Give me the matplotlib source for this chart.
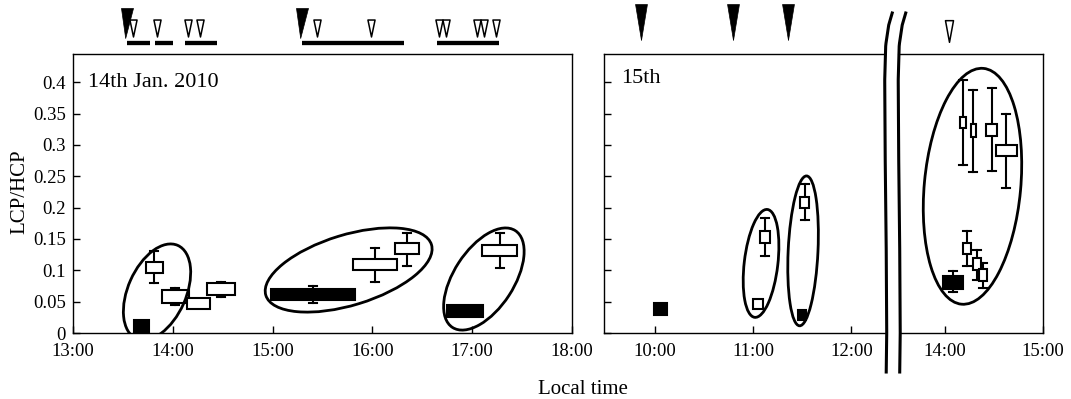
import numpy as np
import matplotlib
matplotlib.use("Agg")
import matplotlib.pyplot as plt
from matplotlib.patches import Rectangle, Ellipse, Polygon
from matplotlib.path import Path
from matplotlib.lines import Line2D
from matplotlib.transforms import ScaledTranslation, blended_transform_factory, IdentityTransform

plt.rcParams['font.family'] = ['Liberation Serif', 'DejaVu Serif']

nan = np.nan

# --- 14th Jan 2010 (left panel), time in hours ---
x14 = [13.687, 13.815, 14.025, 14.258, 14.483, 15.405, 16.027, 16.347, 16.928, 17.275]
w14 = [0.147, 0.176, 0.276, 0.223, 0.273, 0.85, 0.433, 0.233, 0.363, 0.356]
q1_14 = [0.0, 0.096, 0.048, 0.038, 0.061, 0.052, 0.100, 0.126, 0.025, 0.123]
q3_14 = [0.020, 0.114, 0.069, 0.056, 0.079, 0.070, 0.118, 0.144, 0.044, 0.141]
lo_14 = [nan, 0.079, 0.045, nan, 0.058, 0.048, 0.081, 0.107, nan, 0.103]
hi_14 = [nan, 0.131, 0.071, nan, 0.082, 0.075, 0.136, 0.160, nan, 0.159]
filled_14 = [True, False, False, False, False, True, False, False, True, False]

# --- 15th (right panel) ---
x15 = [10.059, 11.049, 11.120, 11.497, 11.524, 14.084, 14.185, 14.290, 14.476, 14.628, 14.226, 14.328, 14.389]
w15 = [0.132, 0.096, 0.102, 0.078, 0.095, 0.198, 0.061, 0.054, 0.118, 0.22, 0.075, 0.075, 0.075]
q1_15 = [0.029, 0.039, 0.143, 0.021, 0.200, 0.070, 0.327, 0.313, 0.314, 0.282, 0.126, 0.100, 0.083]
q3_15 = [0.048, 0.055, 0.162, 0.037, 0.217, 0.091, 0.345, 0.333, 0.333, 0.300, 0.144, 0.119, 0.102]
lo_15 = [nan, nan, 0.123, nan, 0.180, 0.065, 0.268, 0.257, 0.259, 0.231, 0.107, 0.085, 0.071]
hi_15 = [nan, nan, 0.183, nan, 0.238, 0.099, 0.404, 0.387, 0.390, 0.349, 0.162, 0.132, 0.111]
filled_15 = [True, False, False, True, False, True, False, False, False, False, False, False, False]

# ellipses: centre (time, value), semi axes in pixels, angle
ell14_x = [13.842, 15.762, 17.117]
ell14_y = [0.0654, 0.1005, 0.0861]
ell14_a = [51, 86.6, 57.7]
ell14_b = [29, 35.2, 30]
ell14_ang = [66, 17, 57]

ell15_x = [11.079, 11.507, 14.282]
ell15_y = [0.111, 0.131, 0.234]
ell15_a = [54.3, 75, 118.4]
ell15_b = [16.8, 14.9, 48.2]
ell15_ang = [83.3, 87.3, 84.7]

# markers above the panels
big_tri14 = [13.545, 15.295]
open_tri14 = [13.605, 13.84, 14.15, 14.27, 15.44, 15.99, 16.67, 16.74, 17.05, 17.12, 17.24]
bar14_start = [13.54, 13.82, 14.12, 15.29, 16.65]
bar14_end = [13.77, 14.00, 14.44, 16.32, 17.27]
big_tri15 = [9.855, 10.797, 11.357]
open_tri15 = [14.043]

yticks = [0, 0.05, 0.1, 0.15, 0.2, 0.25, 0.3, 0.35, 0.4]
ytick_labels = ['0', '0.05', '0.1', '0.15', '0.2', '0.25', '0.3', '0.35', '0.4']
xticks14 = [13, 14, 15, 16, 17, 18]
xticks15 = [10, 11, 12, 14, 15]

GAP = 1.05  # hours cut out by the axis break
BREAK_AT = 12.43

DPI = 100
fig = plt.figure(figsize=(10.71, 3.99), dpi=DPI)
ax1 = fig.add_axes([73 / 1071, 66 / 399, 499 / 1071, 279 / 399])
ax2 = fig.add_axes([604 / 1071, 66 / 399, 439 / 1071, 279 / 399])


def shift(t):
    return t - GAP if t > 13 else t


def draw_boxes(ax, xs, ws, q1, q3, lo, hi, filled, cap):
    for x, w, a, b, l, h, f in zip(xs, ws, q1, q3, lo, hi, filled):
        if not np.isnan(l):
            ax.plot([x, x], [l, h], color='k', lw=1.5, zorder=2)
            ax.plot([x - cap / 2, x + cap / 2], [l, l], color='k', lw=1.5, zorder=2)
            ax.plot([x - cap / 2, x + cap / 2], [h, h], color='k', lw=1.5, zorder=2)
        ax.add_patch(Rectangle((x - w / 2, a), w, b - a, facecolor='k' if f else 'white',
                               edgecolor='k', lw=1.5, zorder=3))


def draw_ellipses(ax, xs, ys, aa, bb, angs):
    for x, y, a, b, ang in zip(xs, ys, aa, bb, angs):
        tr = fig.dpi_scale_trans + ScaledTranslation(x, y, ax.transData)
        ax.add_patch(Ellipse((0, 0), 2 * a / DPI, 2 * b / DPI, angle=ang, transform=tr,
                             fill=False, ec='k', lw=2, zorder=4))


def tri(ratio, tip=0.0):
    return Path([(-ratio / 2, 0.5), (ratio / 2, 0.5), (tip, -0.5), (-ratio / 2, 0.5)],
                [Path.MOVETO, Path.LINETO, Path.LINETO, Path.CLOSEPOLY])


draw_boxes(ax1, x14, w14, q1_14, q3_14, lo_14, hi_14, filled_14, 0.08)
draw_ellipses(ax1, ell14_x, ell14_y, ell14_a, ell14_b, ell14_ang)

x15s = [shift(t) for t in x15]
draw_boxes(ax2, x15s, w15, q1_15, q3_15, lo_15, hi_15, filled_15, 0.082)
draw_ellipses(ax2, [shift(t) for t in ell15_x], ell15_y, ell15_a, ell15_b, ell15_ang)

# markers above
tr1 = blended_transform_factory(ax1.transData, ax1.transAxes)
for s, e in zip(bar14_start, bar14_end):
    ax1.plot([s, e], [1.040, 1.040], color='k', lw=3.1, solid_capstyle='butt',
             transform=tr1, clip_on=False)
ax1.plot(big_tri14, [1.111] * len(big_tri14), ls='none', marker=tri(0.4, -0.06), ms=21.6,
         mfc='k', mec='k', mew=0.5, transform=tr1, clip_on=False)
ax1.plot(open_tri14, [1.0914] * len(open_tri14), ls='none', marker=tri(0.42), ms=12.2,
         mfc='white', mec='k', mew=1.1, transform=tr1, clip_on=False)

tr2 = blended_transform_factory(ax2.transData, ax2.transAxes)
ax2.plot([shift(t) for t in big_tri15], [1.1147] * len(big_tri15), ls='none', marker=tri(0.33),
         ms=25.9, mfc='k', mec='k', mew=0.5, transform=tr2, clip_on=False)
ax2.plot([shift(t) for t in open_tri15], [1.083] * len(open_tri15), ls='none', marker=tri(0.37),
         ms=15.6, mfc='white', mec='k', mew=1.1, transform=tr2, clip_on=False)

# axes
for ax in (ax1, ax2):
    ax.set_ylim(0, 0.445)
    ax.set_yticks(yticks)
    ax.tick_params(direction='in', length=5, width=1, labelsize=13.5, pad=5)
    ax.tick_params(axis='x', pad=7.5)
    for sp in ax.spines.values():
        sp.set_linewidth(1.0)

ax1.set_xlim(13, 18)
ax1.set_xticks(xticks14)
ax1.set_xticklabels(['%d:00' % h for h in xticks14])
ax1.set_yticklabels(ytick_labels)
ax1.text(0.0307, 0.883, '14th Jan. 2010', transform=ax1.transAxes, fontsize=16, va='baseline')

ax2.set_xlim(9.48, 15 - GAP)
ax2.set_xticks([shift(h) for h in xticks15])
ax2.set_xticklabels(['%d:00' % h for h in xticks15])
ax2.set_yticklabels([])
ax2.text(0.040, 0.895, '15th', transform=ax2.transAxes, fontsize=16, va='baseline')

fig.text(20 / 1071, (399 - 192) / 399, 'LCP/HCP', rotation=90, ha='center', va='center', fontsize=15)
fig.text(583 / 1071, 5 / 399, 'Local time', ha='center', va='baseline', fontsize=15)

# axis break, drawn in pixels
xb = ax2.transData.transform((BREAK_AT, 0))[0]
by = np.array([13, 25, 45, 80, 160, 250, 333, 372], dtype=float)
bdx = np.array([-1.5, -5, -8, -9, -8.5, -7.5, -7, -7.5])
yy = np.linspace(13, 372, 120)
dx = np.interp(yy, by, bdx)
x_left = xb + dx
x_right = xb + dx + 13.5
ydisp = 399 - yy
poly = np.column_stack([np.concatenate([x_left + 1, x_right[::-1] - 1]),
                        np.concatenate([ydisp, ydisp[::-1]])])
fig.add_artist(Polygon(poly, closed=True, fc='white', ec='none', transform=IdentityTransform(), zorder=10))
fig.add_artist(Line2D(x_left, ydisp, color='k', lw=2.2, transform=IdentityTransform(), zorder=11))
fig.add_artist(Line2D(x_right, ydisp, color='k', lw=2.2, transform=IdentityTransform(), zorder=11))

fig.savefig('out.png', dpi=DPI)
